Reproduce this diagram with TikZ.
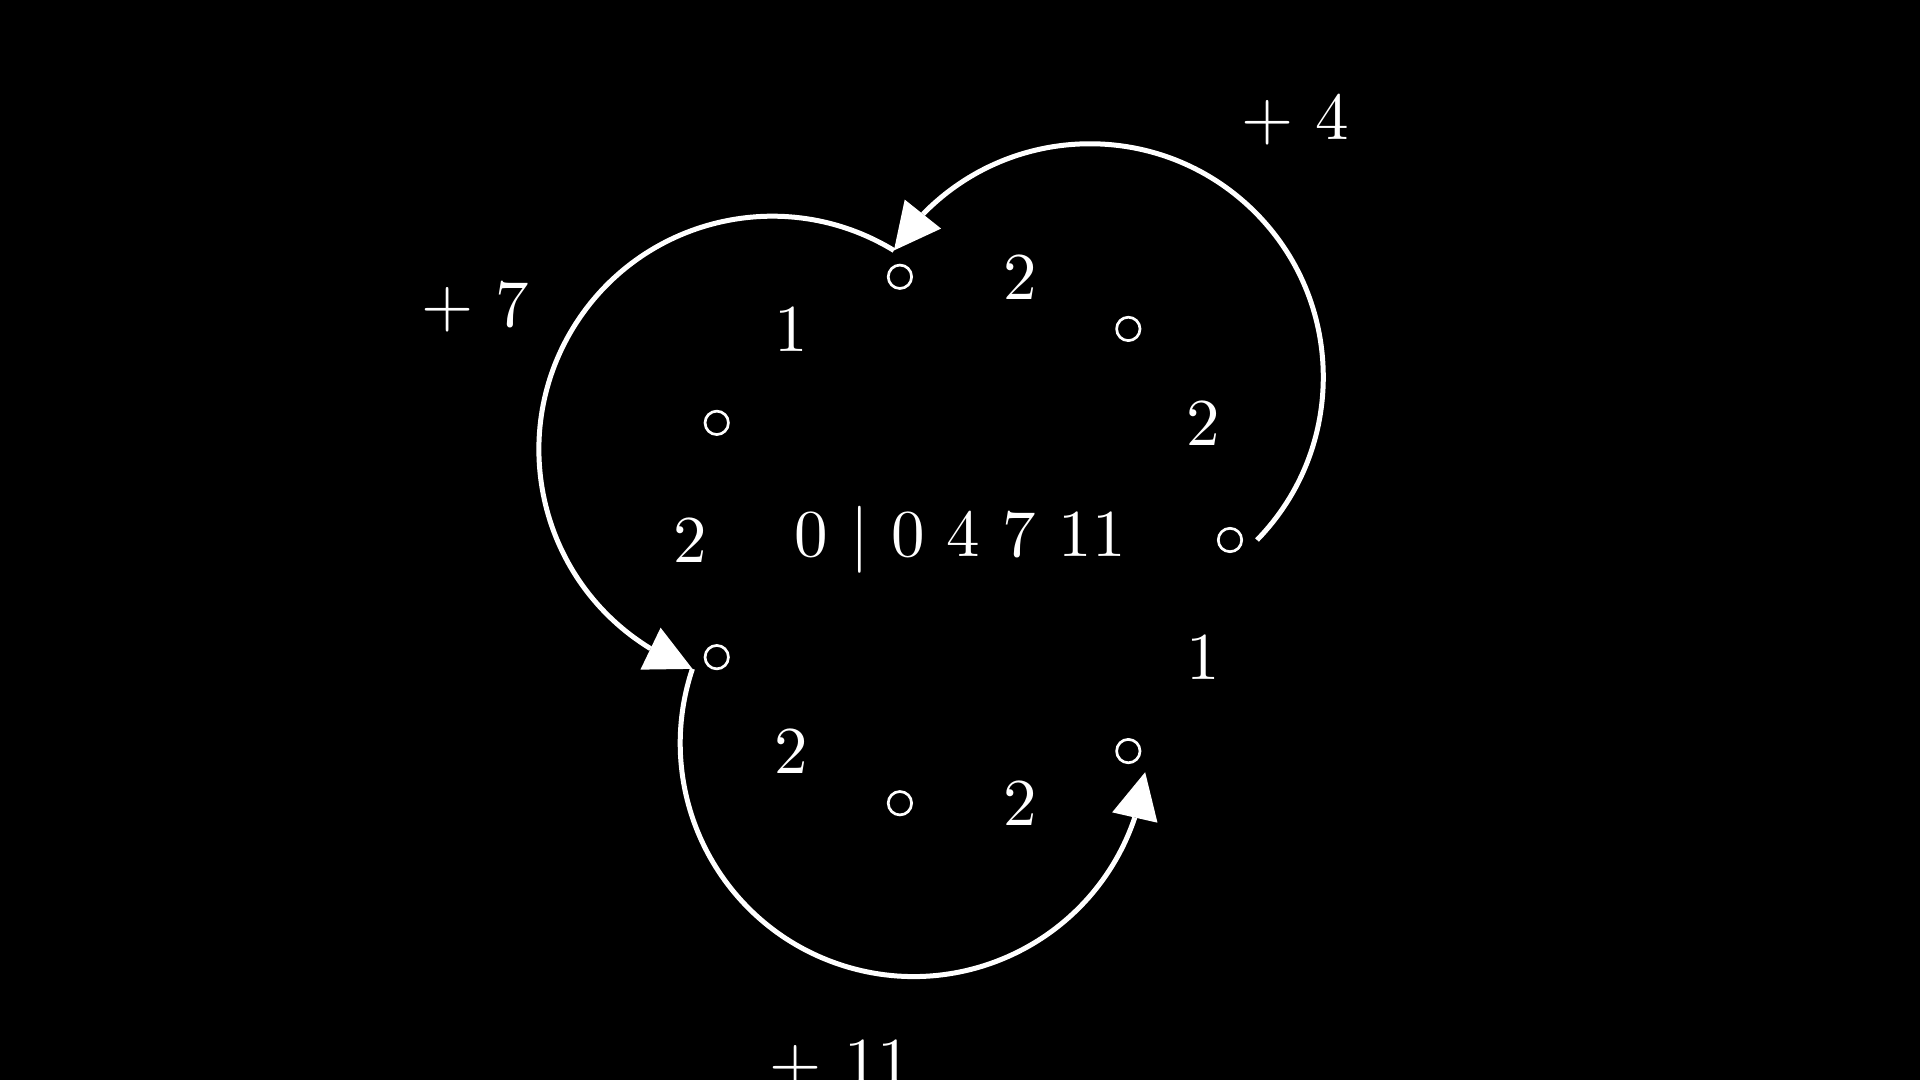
\documentclass[tikz,border=0pt]{standalone}
\usepackage{graphicx}
\usetikzlibrary{calc}
\newcommand\bigt[1]{\scalebox{6.7}{#1}}
\begin{document}
\begin{tikzpicture}[x=1pt,y=1pt,
  conn/.style={draw=white, line width=5pt},
  tipfill/.style={fill=white},
  vtx/.style={circle, draw=white, line width=2.7pt, minimum size=23.4pt, inner sep=0pt},
  lbl/.style={text=white, inner sep=0pt, outer sep=0pt}]
\fill[black] (-960,-540) rectangle (960,540);
\useasboundingbox (-960,-540) rectangle (960,540);
\foreach \k in {0,...,6} \node[vtx] (v\k) at ({\k*360/7}:270) {};
\node[lbl] (c) at (0,0) {\bigt{0 $|$ 0 4 7 11}};
\foreach \k/\lab in {0/2,1/2,2/1,3/2,4/2,5/2,6/1} \node[lbl] (s\k) at ({(2*\k+1)*180/7}:270) {\bigt{\lab}};
\node[lbl] (l4) at ({360/7}:538) {\bigt{+ 4}};
\node[lbl] (l7) at ({3*360/7}:538) {\bigt{+ 7}};
\node[lbl] (l11) at ({5*360/7}:538) {\bigt{+ 11}};
\foreach \k in {0,...,3} \coordinate (p\k) at ({\k*720/7}:297);
\foreach \k in {1,2,3} \coordinate (b\k) at ($(p\k)+({(2*\k-1)*360/7}:46.5)$);
\foreach \i/\j in {0/1,1/2,2/3} {
  \draw[conn] let \p1=($(p\i)-(b\j)$) in (p\i) arc[start angle={atan2(\y1,\x1)}, delta angle=180, radius={veclen(\x1,\y1)/2}];
  \fill[tipfill] (p\j) -- ($(b\j)!23.25pt!90:(p\j)$) -- ($(b\j)!23.25pt!-90:(p\j)$) -- cycle;
}
\end{tikzpicture}
\end{document}
